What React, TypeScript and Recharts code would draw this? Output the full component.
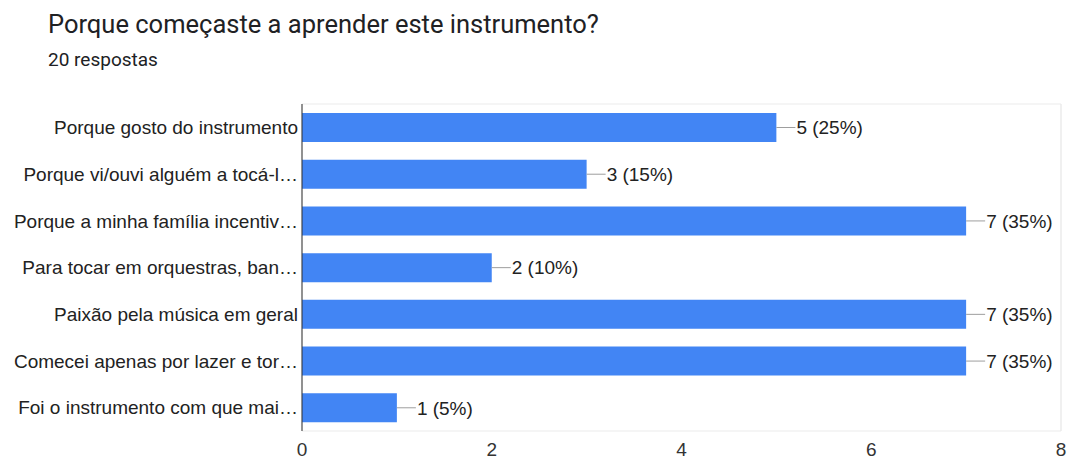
import { BarChart, Bar, XAxis, YAxis, CartesianGrid, LabelList, ReferenceArea } from 'recharts';

const categories = [
  'Porque gosto do instrumento',
  'Porque vi/ouvi alguém a tocá-l…',
  'Porque a minha família incentiv…',
  'Para tocar em orquestras, ban…',
  'Paixão pela música em geral',
  'Comecei apenas por lazer e tor…',
  'Foi o instrumento com que mai…',
];
const counts = [5, 3, 7, 2, 7, 7, 1];
const percents = [25, 15, 35, 10, 35, 35, 5];
const xTicks = [0, 2, 4, 6, 8];
const gridTicks = [0, 1, 2, 3, 4, 5, 6, 7, 8];

const data = categories.map((name, i) => ({ name, value: counts[i], pct: percents[i] }));

const FONT = 'Arial, "Liberation Sans", sans-serif';

function ValueLabel(props: any) {
  const { x, y, width, height, index } = props;
  const end = x + width;
  const cy = y + height / 2;
  return (
    <g>
      <line x1={end} y1={cy} x2={end + 19} y2={cy} stroke="#9e9e9e" strokeWidth={1} />
      <text x={end + 20} y={cy} dy="0.36em" fontSize={19} fontFamily={FONT} fill="#222">
        {`${counts[index]} (${percents[index]}%)`}
      </text>
    </g>
  );
}

export default function App() {
  return (
    <div style={{ position: 'absolute', left: 0, top: 0, width: 1069, height: 460, background: '#fff' }}>
      <div style={{ position: 'absolute', left: 48, top: 9, fontFamily: 'Roboto, sans-serif', fontSize: 25.5, color: '#202124' }}>
        Porque começaste a aprender este instrumento?
      </div>
      <div style={{ position: 'absolute', left: 48, top: 48, fontFamily: 'Roboto, sans-serif', fontSize: 19, color: '#202124' }}>
        20 respostas
      </div>
      <BarChart
        width={1069}
        height={460}
        data={data}
        layout="vertical"
        margin={{ top: 104, right: 8, bottom: 0, left: 0 }}
        barSize={29}
      >
        <XAxis xAxisId="grid" type="number" domain={[0, 8]} ticks={gridTicks} hide />
        <CartesianGrid xAxisId="grid" horizontal={false} stroke="#ebebeb" />
        <ReferenceArea x1={0} x2={8} fill="none" stroke="#ebebeb" ifOverflow="visible" />
        <XAxis
          type="number"
          domain={[0, 8]}
          ticks={xTicks}
          axisLine={false}
          tickLine={false}
          tick={{ fontSize: 19, fontFamily: FONT, fill: '#333' }}
          tickMargin={6}
          height={29}
        />
        <YAxis
          type="category"
          dataKey="name"
          width={302}
          axisLine={{ stroke: '#333' }}
          tickLine={false}
          tickSize={4}
          tickMargin={0}
          tick={{ fontSize: 19, fontFamily: FONT, fill: '#222' }}
          interval={0}
        />
        <Bar dataKey="value" fill="#4285f4" isAnimationActive={false}>
          <LabelList dataKey="value" content={ValueLabel} />
        </Bar>
      </BarChart>
    </div>
  );
}
